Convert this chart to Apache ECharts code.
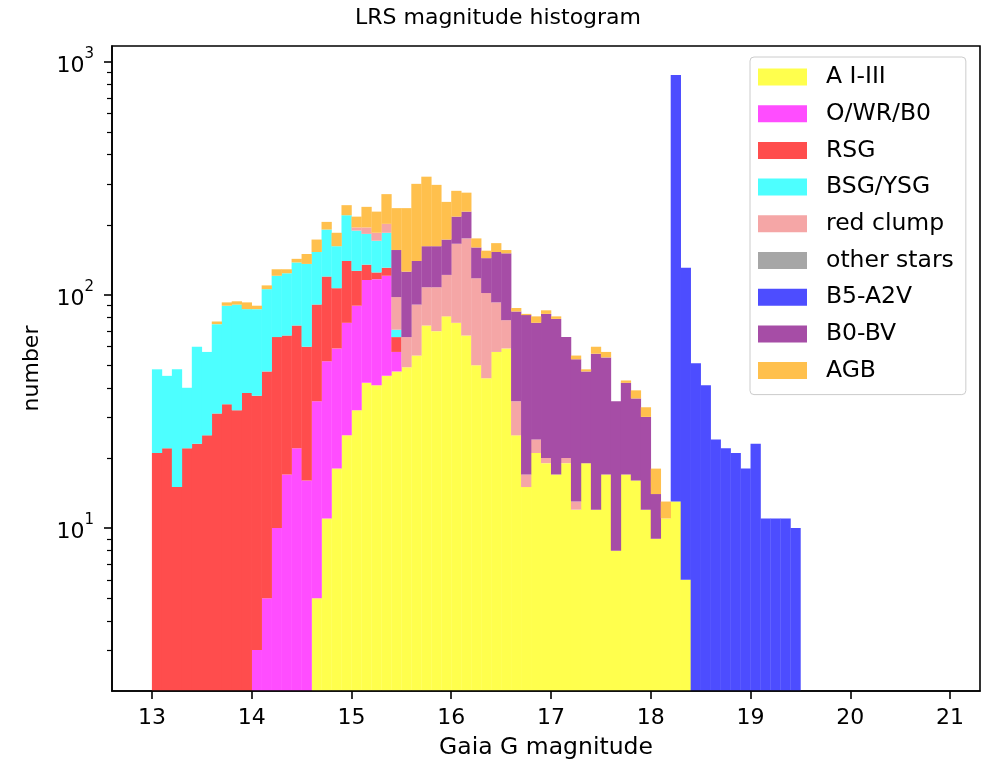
<!DOCTYPE html>
<html><head><meta charset="utf-8">
<script src="https://cdn.jsdelivr.net/npm/echarts@6/dist/echarts.min.js"></script>
<style>html,body{margin:0;padding:0;background:#fff}#c{width:995px;height:769px}</style>
</head><body><div id="c"></div>
<script>
// ---- data ----
const binStart = 13.0;
const binWidth = 0.1;
const xTicks = [13, 14, 15, 16, 17, 18, 19, 20, 21];
const yTicks = [10, 100, 1000];
const yMinorTicks = [3,4,5,6,7,8,9,20,30,40,50,60,70,80,90,200,300,400,500,600,700,800,900];
const seriesNames = ['A I-III','O/WR/B0','RSG','BSG/YSG','red clump','other stars','B5-A2V','B0-BV','AGB'];

const aI_III = [0,0,0,0,0,0,0,0,0,0,0,0,0,0,0,0,
  5,11,18,25,32,42,41,45,47,49,55,74,70,81,76,67,50,44,57,59,25,15,21,19,17,19,12,19,12,17,8,17,16,12,9,11,13,6,
  0,0,0,0,0,0,0,0,0,0,0];
const oWR_B0 = [0,0,0,0,0,0,0,0,0,0,
  3,5,10,17,22,16,30,41,41,51,58,74,76,76,10,
  0,0,0,0,0,0,0,0,0,0,0,0,0,0,0,0,0,0,0,0,0,0,0,0,0,0,0,0,0,0,0,0,0,0,0,0,0,0,0,0];
const rsg = [21,22,15,22,23,25,31,34,32,38,34,42,56,50,52,44,56,68,48,64,37,19,8,10,9,
  0,0,0,0,0,0,0,0,0,0,0,0,0,0,0,0,0,0,0,0,0,0,0,0,0,0,0,0,0,0,0,0,0,0,0,0,0,0,0,0];
const bsgYsg = [27,23,33,18,37,32,44,56,59,49,50,59,55,57,64,76,62,71,55,80,62,48,46,54,5,
  0,0,0,0,0,0,0,0,0,0,0,0,0,0,0,0,0,0,0,0,0,0,0,0,0,0,0,0,0,0,0,0,0,0,0,0,0,0,0,0];
const redClump = [0,0,0,0,0,0,0,0,0,0,0,0,0,0,0,0,0,0,0,0,
  6,12,14,17,27,17,36,34,38,41,90,108,68,58,36,19,10,2,3,1,0,1,1,
  0,0,0,0,0,0,0,0,0,0,0,0,0,0,0,0,0,0,0,0,0,0];
const otherStars = [0,0,0,0,0,0,0,0,0,0,0,0,0,0,0,0,0,0,0,0,0,0,0,0,0,0,0,0,0,0,0,0,0,
  0,0,0,0,0,0,0,0,0,0,0,0,0,0,0,0,0,0,0,0,0,0,0,0,0,0,0,0,0,0,0,0];
const b5_A2V = [0,0,0,0,0,0,0,0,0,0,0,0,0,0,0,0,0,0,0,0,0,0,0,0,0,0,0,0,0,0,0,0,0,0,0,0,0,0,0,0,0,0,0,0,0,0,0,0,0,0,0,0,
  867,125,51,41,24,22,21,18,23,11,11,11,10];
const b0_BV = [0,0,0,0,0,0,0,0,0,0,0,0,0,0,0,0,0,0,0,0,0,0,0,0,
  58,60,49,54,54,51,51,53,42,42,60,73,50,65,52,63,62,46,40,28,44,37,27,25,20,18,5,
  0,0,0,0,0,0,0,0,0,0,0,0,0,0];
const agb = [0,0,0,0,0,0,
  2,3,3,6,3,4,8,5,5,14,20,15,23,23,22,44,43,69,80,110,160,160,135,78,63,47,15,11,14,5,3,1,5,3,2,0,2,1,4,3,0,1,3,3,4,2,
  0,0,0,0,0,0,0,0,0,0,0,0,0];

const seriesCounts = [aI_III, oWR_B0, rsg, bsgYsg, redClump, otherStars, b5_A2V, b0_BV, agb];
const seriesColors = ['#ffff4d','#ff4dff','#ff4d4d','#4dffff','#f5a6a6','#a6a6a6','#4d4dff','#a64da6','#ffc04d'];

const Y_MIN = 2.0, Y_MAX = 1171;
const X_MIN = 12.6, X_MAX = 21.3;
const FONT = 'DejaVu Sans';

// ---- build stacked layers ----
const nBins = aI_III.length;
const cum = new Array(nBins).fill(0);
const series = seriesNames.map((name, k) => {
  const counts = seriesCounts[k];
  const data = [];
  for (let i = 0; i < nBins; i++) {
    const c = counts[i] || 0;
    const lo = cum[i], hi = cum[i] + c;
    if (c > 0) {
      const x0 = +(binStart + i * binWidth).toFixed(2);
      data.push([x0, +(x0 + binWidth).toFixed(2), lo, hi]);
    }
    cum[i] = hi;
  }
  const color = seriesColors[k];
  return {
    type: 'custom', name: name, data: data,
    itemStyle: { color: color },
    encode: { x: [0, 1], y: [3] },
    renderItem: function (params, api) {
      const p0 = api.coord([api.value(0), Math.max(api.value(2), Y_MIN)]);
      const p1 = api.coord([api.value(1), api.value(3)]);
      return { type: 'rect',
        shape: { x: p0[0], y: p1[1], width: p1[0] - p0[0] + 0.3, height: p0[1] - p1[1] },
        style: { fill: color } };
    }
  };
});

const supDigits = {1: '1', 2: '2', 3: '3'};
const chart = echarts.init(document.getElementById('c'), null, { renderer: 'canvas' });
chart.setOption({
  animation: false,
  backgroundColor: '#ffffff',
  grid: { left: 112, right: 15, top: 46, bottom: 78, show: true, borderColor: '#000', borderWidth: 1.6, backgroundColor: 'transparent' },
  graphic: [{ type: 'text', x: 498, y: 18, z: 100,
    style: { text: 'LRS magnitude histogram', fontFamily: FONT, fontSize: 22, fill: '#000', textAlign: 'center', textVerticalAlign: 'middle' } }],
  legend: {
    data: seriesNames, orient: 'vertical', left: 750, top: 57,
    itemWidth: 49, itemHeight: 17, itemGap: 12.7, icon: 'rect',
    padding: [8, 12, 12, 8],
    backgroundColor: 'rgba(255,255,255,0.8)', borderColor: '#cccccc', borderWidth: 1, borderRadius: 4,
    textStyle: { fontFamily: FONT, fontSize: 23.5, lineHeight: 24, color: '#000', padding: [0, 0, 0, 14] },
    selectedMode: false, z: 50
  },
  xAxis: {
    type: 'value', min: X_MIN, max: X_MAX, z: 10,
    name: 'Gaia G magnitude', nameLocation: 'middle', nameGap: 45,
    nameTextStyle: { fontFamily: FONT, fontSize: 23.5, color: '#000' },
    axisLine: { show: true, onZero: false, lineStyle: { color: '#000', width: 1.6 } },
    axisTick: { show: true, length: 8, customValues: xTicks, lineStyle: { color: '#000', width: 1.6 } },
    axisLabel: { customValues: xTicks, margin: 16, fontFamily: FONT, fontSize: 22, color: '#000',
      formatter: v => String(Math.round(v)) },
    splitLine: { show: false }
  },
  yAxis: [{
    type: 'log', logBase: 10, min: Y_MIN, max: Y_MAX, z: 10,
    name: 'number', nameLocation: 'middle', nameGap: 69,
    nameTextStyle: { fontFamily: FONT, fontSize: 22, color: '#000' },
    axisLine: { show: true, lineStyle: { color: '#000', width: 1.6 } },
    axisTick: { show: true, length: 8, customValues: yTicks, lineStyle: { color: '#000', width: 1.6 } },
    axisLabel: { customValues: yTicks, margin: 18, color: '#000',
      formatter: v => '{a|10}{b|' + supDigits[Math.round(Math.log10(v))] + '}',
      rich: { a: { fontFamily: FONT, fontSize: 22, lineHeight: 30, verticalAlign: 'bottom' },
              b: { fontFamily: FONT, fontSize: 15, lineHeight: 18, verticalAlign: 'top' } } },
    splitLine: { show: false }
  }, {
    type: 'log', logBase: 10, min: Y_MIN, max: Y_MAX, position: 'left', z: 10,
    axisLine: { show: false },
    axisTick: { show: true, length: 5, customValues: yMinorTicks, lineStyle: { color: '#000', width: 1.2 } },
    axisLabel: { show: false },
    splitLine: { show: false }
  }],
  series: series
});
</script>
</body></html>
